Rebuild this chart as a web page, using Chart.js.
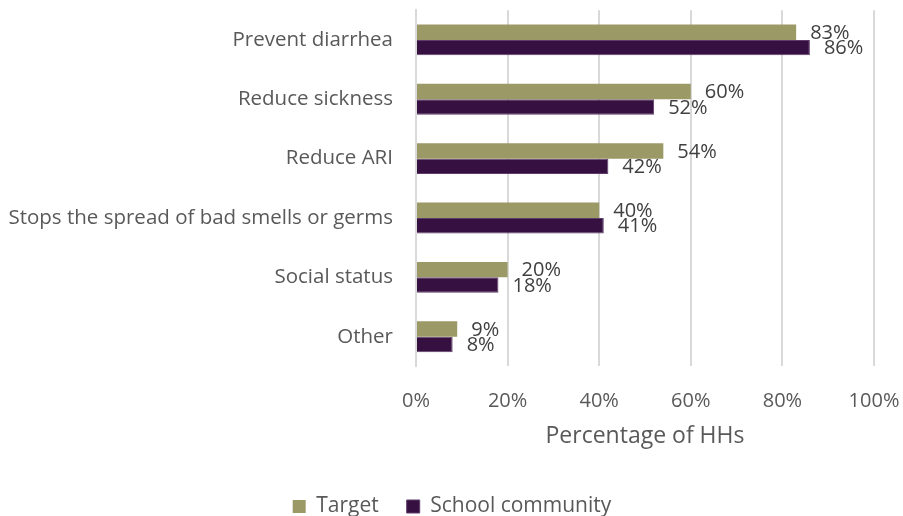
<!DOCTYPE html>
<html>
<head>
<meta charset="utf-8">
<script src="https://cdn.jsdelivr.net/npm/chart.js@4/dist/chart.umd.min.js"></script>
<style>
html,body{margin:0;padding:0;background:#fff;}
#wrap{width:903px;height:516px;position:relative;}
</style>
</head>
<body>
<div id="wrap"><canvas id="c" width="903" height="516"></canvas></div>
<script>
const categories = ["Prevent diarrhea","Reduce sickness","Reduce ARI","Stops the spread of bad smells or germs","Social status","Other"];
const targetValues = [83,60,54,40,20,9];
const schoolValues = [86,52,42,41,18,8];
const xTicks = [0,20,40,60,80,100];
const seriesNames = ["Target","School community"];

const FONT = "'Open Sans', Lato, sans-serif";
const CLEAR = 'rgba(0,0,0,0)';
const LEGEND_NUDGE = 15;

const labelPlugin = {
  id: 'barLabels',
  beforeDraw(chart) {
    const l = chart.legend;
    if (l && !l._wrapped) {
      const orig = l.draw.bind(l);
      l.draw = function (area) {
        const ctx = chart.ctx;
        ctx.save();
        ctx.translate(LEGEND_NUDGE, 0);
        orig(area);
        ctx.restore();
      };
      l._wrapped = true;
    }
  },
  afterDatasetsDraw(chart) {
    const ctx = chart.ctx;
    ctx.save();
    ctx.font = "20px " + FONT;
    ctx.fillStyle = "#404040";
    ctx.textAlign = "left";
    ctx.textBaseline = "middle";
    chart.data.datasets.forEach((ds, di) => {
      const meta = chart.getDatasetMeta(di);
      meta.data.forEach((bar, i) => {
        ctx.fillText(ds.data[i] + "%", bar.x + 14, bar.y + 1);
      });
    });
    ctx.restore();
  }
};

new Chart(document.getElementById('c'), {
  type: 'bar',
  data: {
    labels: categories,
    datasets: [
      {label: seriesNames[0], data: targetValues, backgroundColor: '#9b9966', borderWidth: 0,
       barPercentage: 1, categoryPercentage: 0.52},
      {label: seriesNames[1], data: schoolValues, backgroundColor: '#361040', borderColor: '#5e3c6a', borderWidth: 1,
       barPercentage: 1, categoryPercentage: 0.52}
    ]
  },
  options: {
    indexAxis: 'y',
    responsive: false,
    animation: false,
    devicePixelRatio: 1,
    layout: {padding: {top: 10, right: 29, left: 0, bottom: -11}},
    plugins: {
      legend: {
        position: 'bottom',
        labels: {boxWidth: 13, boxHeight: 13, padding: 28, color: '#595959', font: {family: FONT, size: 21}}
      },
      tooltip: {enabled: false}
    },
    scales: {
      x: {
        min: 0, max: 100,
        afterBuildTicks(axis) { axis.ticks = xTicks.map(v => ({value: v})); },
        ticks: {callback: v => v + '%', color: '#595959', font: {family: FONT, size: 20}, padding: 3},
        grid: {color: '#d9d9d9', lineWidth: 2, drawTicks: true, tickLength: 20, tickColor: CLEAR},
        border: {display: false},
        title: {display: true, text: 'Percentage of HHs', color: '#595959', font: {family: FONT, size: 23}, padding: {top: 6, bottom: 18}}
      },
      y: {
        afterFit(scale) { scale.width = 416; },
        ticks: {color: '#595959', font: {family: FONT, size: 20.5, lineHeight: 1}, padding: 0},
        grid: {display: true, drawOnChartArea: false, drawTicks: true, tickLength: 23, tickColor: CLEAR, color: CLEAR},
        border: {display: true, color: '#d9d9d9', width: 2}
      }
    }
  },
  plugins: [labelPlugin]
});
</script>
</body>
</html>
